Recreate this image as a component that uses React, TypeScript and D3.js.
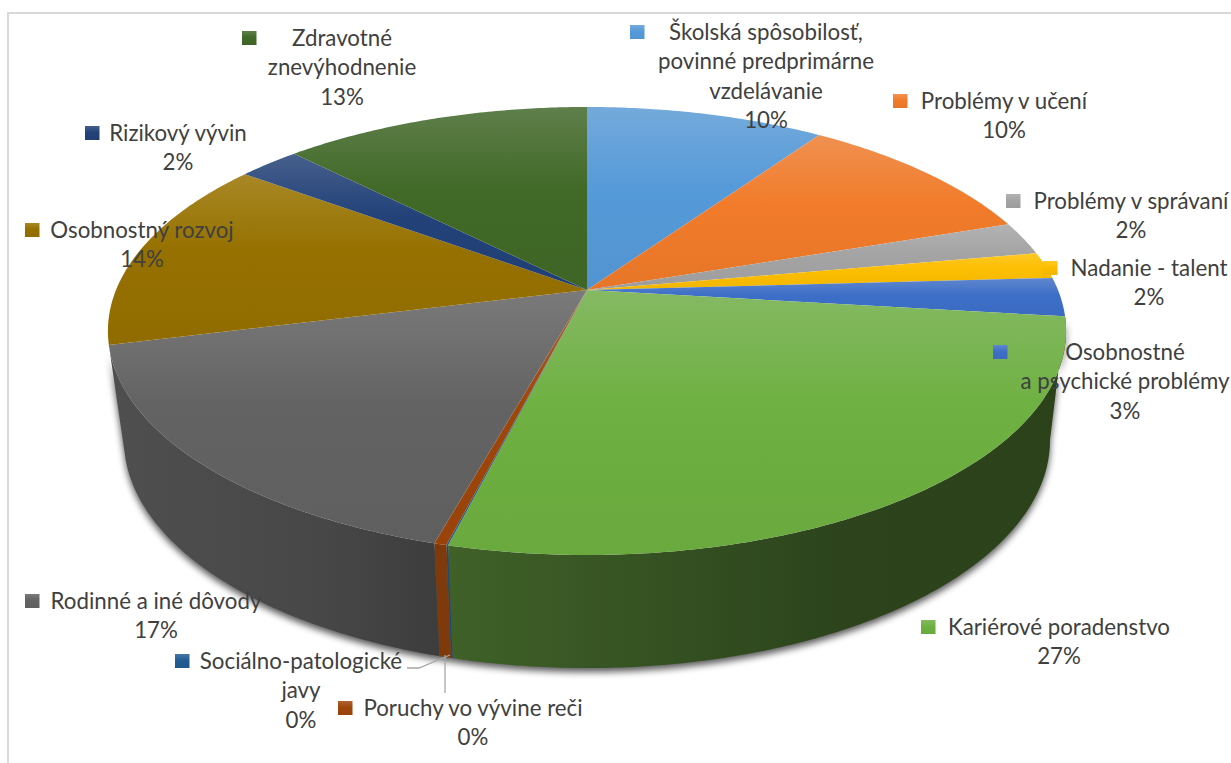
import React from "react";
import * as d3 from "d3";

// chart values (labels show them rounded)
const categories = [
  "Školská spôsobilosť, povinné predprimárne vzdelávanie",
  "Problémy v učení",
  "Problémy v správaní",
  "Nadanie - talent",
  "Osobnostné a psychické problémy",
  "Kariérové poradenstvo",
  "Sociálno-patologické javy",
  "Poruchy vo vývine reči",
  "Rodinné a iné dôvody",
  "Osobnostný rozvoj",
  "Rizikový vývin",
  "Zdravotné znevýhodnenie",
];
const values = [9.6, 10.2, 2.4, 1.9, 2.8, 27, 0.05, 0.35, 16.8, 14, 2.5, 12.4];
const percentLabels = ["10%", "10%", "2%", "2%", "3%", "27%", "0%", "0%", "17%", "14%", "2%", "13%"];
const colors = [
  "#5b9bd5", "#ed7d31", "#a5a5a5", "#ffc000", "#4472c4", "#70ad47",
  "#255e91", "#9e480e", "#636363", "#997300", "#264478", "#43682b",
];
const labelLines = [
  ["Školská spôsobilosť,", "povinné predprimárne", "vzdelávanie"],
  ["Problémy v učení"],
  ["Problémy v správaní"],
  ["Nadanie - talent"],
  ["Osobnostné", "a psychické problémy"],
  ["Kariérové poradenstvo"],
  ["Sociálno-patologické", "javy"],
  ["Poruchy vo vývine reči"],
  ["Rodinné a iné dôvody"],
  ["Osobnostný rozvoj"],
  ["Rizikový vývin"],
  ["Zdravotné", "znevýhodnenie"],
];

// label placement: text centre x, first line centre y, marker left x
const labelCx = [766, 1004, 1131, 1149, 1125, 1059, 301, 473, 156, 142, 178, 342];
const labelCy = [32, 101, 201, 268, 352, 627, 661, 708, 601, 230, 133, 38];
const markerX = [630, 893, 1006, 1043, 993, 921, 175, 338, 25, 25, 85, 242];
const lineGap = 29.5;

const width = 1231;
const height = 763;

// tilted disc: unit circle pushed through a perspective
const cx = 587;
const persp = -0.183;
const top = { cy: 290, rx: 471, ry: 216.5 };
const bottom = { cy: 398.3, rx: 455.2, ry: 220.4 };
// where the lower rim turns back on the right side
const rightTangent = Math.acos(persp);

function project(a: number, disc: { cy: number; rx: number; ry: number }): [number, number] {
  const x = Math.sin(a);
  const y = -Math.cos(a);
  const w = 1 + persp * y;
  return [cx + (disc.rx * x) / w, disc.cy + (disc.ry * y) / w];
}

function sample(start: number, end: number) {
  const n = Math.max(2, Math.ceil((end - start) / 0.01));
  return d3.range(n + 1).map((i) => start + ((end - start) * i) / n);
}

const pie = d3.pie<number>().sort(null).startAngle(0).endAngle(2 * Math.PI);
const arcs = pie(values);
const line = d3.line();

// only the slices facing the viewer show a wall
const frontArcs = arcs
  .map((d, i) => ({ d, i }))
  .filter(({ i }) => ["Kariérové poradenstvo", "Sociálno-patologické javy", "Poruchy vo vývine reči", "Rodinné a iné dôvody"].includes(categories[i]));

function wallPath(d: d3.PieArcDatum<number>) {
  const angles = sample(d.startAngle, d.endAngle);
  const lower = sample(Math.max(d.startAngle, rightTangent), d.endAngle);
  const pts = [
    ...angles.map((a) => project(a, top)),
    ...lower.reverse().map((a) => project(a, bottom)),
  ];
  return line(pts) + "Z";
}

// the wall gets darker to the right of each visible slice
function wallShade(i: number): [number, number, number] {
  if (categories[i] === "Rodinné a iné dôvody") return [0.8, 0.72, 0.62];
  if (categories[i] === "Kariérové poradenstvo") return [0.56, 0.39, 0.38];
  return [0.8, 0.8, 0.8];
}

function shade(color: string, k: number) {
  const c = d3.rgb(color);
  return d3.rgb(c.r * k, c.g * k, c.b * k).formatHex();
}

// faces look a touch more saturated than the palette
function faceBase(color: string) {
  const c = d3.hsl(color);
  return d3.hsl(c.h, Math.min(1, (c.s || 0) + 0.04), c.l - 0.005).formatHex();
}

export default function App() {
  return (
    <svg
      width={width}
      height={height}
      style={{ position: "absolute", left: 0, top: 0, background: "#fff" }}
      fontFamily="Lato, 'Noto Sans', sans-serif"
    >
      <defs>
        <filter id="soft" x="-10%" y="-10%" width="120%" height="120%">
          <feGaussianBlur stdDeviation="3.5" />
        </filter>
        {arcs.map((d, i) => {
          const [l, m, r] = wallShade(i);
          const base = colors[i] === "#636363" ? colors[i] : faceBase(colors[i]);
          return (
            <React.Fragment key={i}>
              <linearGradient id={`face${i}`} x1="0" y1="0" x2="0" y2="1">
                <stop offset="0" stopColor={d3.interpolateRgb(colors[i], "#fff")(0.15)} />
                <stop offset="0.45" stopColor={base} />
                <stop offset="1" stopColor={shade(base, 0.96)} />
              </linearGradient>
              <linearGradient id={`wall${i}`} x1="0" y1="0" x2="1" y2="0">
                <stop offset="0" stopColor={shade(colors[i], l)} />
                <stop offset="0.65" stopColor={shade(colors[i], m)} />
                <stop offset="1" stopColor={shade(colors[i], r)} />
              </linearGradient>
            </React.Fragment>
          );
        })}
      </defs>

      <rect x={8} y={13} width={width} height={height} fill="#fff" stroke="#d9d9d9" strokeWidth={2} />

      <g transform="translate(0,4)" opacity={0.65} filter="url(#soft)">
        {frontArcs.map(({ d, i }) => (
          <path key={i} d={wallPath(d)} fill="#000" />
        ))}
      </g>

      {frontArcs.map(({ d, i }) => (
        <path key={i} d={wallPath(d)} fill={`url(#wall${i})`} />
      ))}

      {arcs.map((d, i) => {
        const pts: [number, number][] = [
          [cx, top.cy],
          ...sample(d.startAngle, d.endAngle).map((a) => project(a, top)),
        ];
        return <path key={i} d={line(pts) + "Z"} fill={`url(#face${i})`} />;
      })}

      {/* leader lines of the two empty slices */}
      <path d="M407,668L419,668L450,655" fill="none" stroke="#a6a6a6" strokeWidth={1.3} />
      <path d="M445,655L445,693" fill="none" stroke="#a6a6a6" strokeWidth={1.3} />

      {categories.map((c, i) => {
        const lines = [...labelLines[i], percentLabels[i]];
        return (
          <g key={c}>
            <rect x={markerX[i]} y={labelCy[i] - 7} width={14.5} height={14} fill={`url(#face${i})`} />
            <text
              x={labelCx[i]}
              y={labelCy[i]}
              textAnchor="middle"
              fontSize={22.3}
              fill="#404040"
            >
              {lines.map((t, j) => (
                <tspan key={j} x={labelCx[i]} y={labelCy[i] + j * lineGap} dy="0.35em">
                  {t}
                </tspan>
              ))}
            </text>
          </g>
        );
      })}
    </svg>
  );
}
